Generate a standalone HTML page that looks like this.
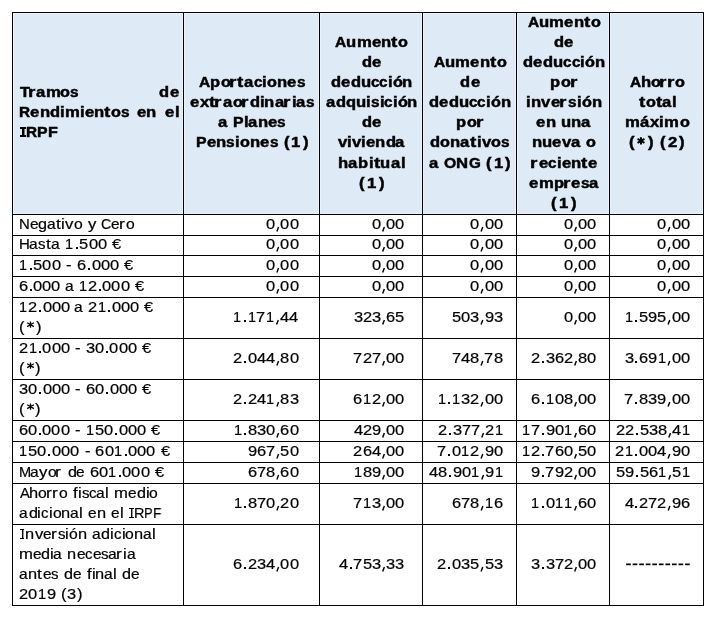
<!DOCTYPE html>
<html><head><meta charset="utf-8"><style>
html,body{margin:0;padding:0;background:#fff;width:715px;height:620px;overflow:hidden;position:relative}
.h{position:absolute;left:12px;width:692px;height:1px;background:#000}
.v{position:absolute;top:12px;height:594px;width:1px;background:#000}
.t,.b{position:absolute;white-space:nowrap;line-height:30px;will-change:transform;font-family:"Liberation Sans",sans-serif;font-size:14.5px;color:#000;transform-origin:0 0}
.t{-webkit-text-stroke:0.2px #000}
.b{font-weight:bold;-webkit-text-stroke:0.45px #000}
</style></head><body>
<div style="position:absolute;left:12px;top:12px;width:691px;height:202px;background:#DEEAF6"></div>
<div style="position:absolute;left:13px;top:13px;width:1px;height:201px;background:#EAF3FB"></div>
<div style="position:absolute;left:182px;top:13px;width:1px;height:201px;background:#EAF3FB"></div>
<div style="position:absolute;left:184px;top:13px;width:1px;height:201px;background:#EAF3FB"></div>
<div style="position:absolute;left:318px;top:13px;width:1px;height:201px;background:#EAF3FB"></div>
<div style="position:absolute;left:320px;top:13px;width:1px;height:201px;background:#EAF3FB"></div>
<div style="position:absolute;left:421px;top:13px;width:1px;height:201px;background:#EAF3FB"></div>
<div style="position:absolute;left:423px;top:13px;width:1px;height:201px;background:#EAF3FB"></div>
<div style="position:absolute;left:515px;top:13px;width:1px;height:201px;background:#EAF3FB"></div>
<div style="position:absolute;left:517px;top:13px;width:1px;height:201px;background:#EAF3FB"></div>
<div style="position:absolute;left:608px;top:13px;width:1px;height:201px;background:#EAF3FB"></div>
<div style="position:absolute;left:610px;top:13px;width:1px;height:201px;background:#EAF3FB"></div>
<div style="position:absolute;left:702px;top:13px;width:1px;height:201px;background:#EAF3FB"></div>
<div style="position:absolute;left:13px;top:13px;width:690px;height:1px;background:#EAF3FB"></div>
<div style="position:absolute;left:13px;top:213px;width:690px;height:1px;background:#EAF3FB"></div>
<div class="h" style="top:12px"></div>
<div class="h" style="top:214px"></div>
<div class="h" style="top:235px"></div>
<div class="h" style="top:255px"></div>
<div class="h" style="top:276px"></div>
<div class="h" style="top:297px"></div>
<div class="h" style="top:338px"></div>
<div class="h" style="top:379px"></div>
<div class="h" style="top:420px"></div>
<div class="h" style="top:441px"></div>
<div class="h" style="top:462px"></div>
<div class="h" style="top:483px"></div>
<div class="h" style="top:524px"></div>
<div class="h" style="top:605px"></div>
<div class="v" style="left:12px"></div>
<div class="v" style="left:183px"></div>
<div class="v" style="left:319px"></div>
<div class="v" style="left:422px"></div>
<div class="v" style="left:516px"></div>
<div class="v" style="left:609px"></div>
<div class="v" style="left:703px"></div>
<div class="b" style="left:19.64px;top:77px;transform:scaleX(1.109)">T</div>
<div class="b" style="left:27.97px;top:77px;transform:scaleX(1.300)">r</div>
<div class="b" style="left:36.08px;top:77px;transform:scaleX(1.150)">a</div>
<div class="b" style="left:45.63px;top:77px;transform:scaleX(1.150)">m</div>
<div class="b" style="left:60.49px;top:77px;transform:scaleX(1.117)">o</div>
<div class="b" style="left:70.14px;top:77px;transform:scaleX(1.059)">s</div>
<div class="b" style="left:159.21px;top:77px;transform:scaleX(1.136)">d</div>
<div class="b" style="left:169.51px;top:77px;transform:scaleX(1.150)">e</div>
<div class="b" style="left:18.66px;top:97px;transform:scaleX(1.059)">R</div>
<div class="b" style="left:30.12px;top:97px;transform:scaleX(1.150)">e</div>
<div class="b" style="left:39.52px;top:97px;transform:scaleX(1.150)">n</div>
<div class="b" style="left:49.95px;top:97px;transform:scaleX(1.136)">d</div>
<div class="b" style="left:59.92px;top:97px;transform:scaleX(1.150)">i</div>
<div class="b" style="left:64.75px;top:97px;transform:scaleX(1.150)">m</div>
<div class="b" style="left:79.93px;top:97px;transform:scaleX(1.150)">i</div>
<div class="b" style="left:84.68px;top:97px;transform:scaleX(1.150)">e</div>
<div class="b" style="left:94.08px;top:97px;transform:scaleX(1.150)">n</div>
<div class="b" style="left:104.22px;top:97px;transform:scaleX(1.300)">t</div>
<div class="b" style="left:110.89px;top:97px;transform:scaleX(1.117)">o</div>
<div class="b" style="left:120.69px;top:97px;transform:scaleX(1.059)">s</div>
<div class="b" style="left:136.78px;top:97px;transform:scaleX(1.150)">e</div>
<div class="b" style="left:146.14px;top:97px;transform:scaleX(1.150)">n</div>
<div class="b" style="left:164.97px;top:97px;transform:scaleX(1.150)">e</div>
<div class="b" style="left:175.08px;top:97px;transform:scaleX(1.150)">l</div>
<div style="position:absolute;left:22px;top:127px;width:2px;height:10px;background:#000"></div>
<div style="position:absolute;left:24px;top:127px;width:1px;height:10px;background:#777"></div>
<div style="position:absolute;left:19.67px;top:127px;width:6.0px;height:2px;background:#000"></div>
<div style="position:absolute;left:19.67px;top:135px;width:6.0px;height:2px;background:#000"></div>
<div class="b" style="left:26.10px;top:117px;transform:scaleX(1.059)">R</div>
<div class="b" style="left:37.18px;top:117px;transform:scaleX(1.091)">P</div>
<div class="b" style="left:47.60px;top:117px;transform:scaleX(1.110)">F</div>
<div class="b" style="left:199.43px;top:67px;transform:scaleX(1.067)">A</div>
<div class="b" style="left:210.24px;top:67px;transform:scaleX(1.136)">p</div>
<div class="b" style="left:220.57px;top:67px;transform:scaleX(1.117)">o</div>
<div class="b" style="left:229.15px;top:67px;transform:scaleX(1.300)">r</div>
<div class="b" style="left:237.44px;top:67px;transform:scaleX(1.300)">t</div>
<div class="b" style="left:244.02px;top:67px;transform:scaleX(1.150)">a</div>
<div class="b" style="left:253.60px;top:67px;transform:scaleX(1.050)">c</div>
<div class="b" style="left:262.32px;top:67px;transform:scaleX(1.150)">i</div>
<div class="b" style="left:267.13px;top:67px;transform:scaleX(1.117)">o</div>
<div class="b" style="left:276.90px;top:67px;transform:scaleX(1.150)">n</div>
<div class="b" style="left:287.22px;top:67px;transform:scaleX(1.150)">e</div>
<div class="b" style="left:296.76px;top:67px;transform:scaleX(1.059)">s</div>
<div class="b" style="left:190.02px;top:87px;transform:scaleX(1.150)">e</div>
<div class="b" style="left:199.74px;top:87px;transform:scaleX(1.150)">x</div>
<div class="b" style="left:209.04px;top:87px;transform:scaleX(1.300)">t</div>
<div class="b" style="left:214.45px;top:87px;transform:scaleX(1.300)">r</div>
<div class="b" style="left:222.76px;top:87px;transform:scaleX(1.150)">a</div>
<div class="b" style="left:232.50px;top:87px;transform:scaleX(1.117)">o</div>
<div class="b" style="left:241.08px;top:87px;transform:scaleX(1.300)">r</div>
<div class="b" style="left:249.67px;top:87px;transform:scaleX(1.136)">d</div>
<div class="b" style="left:259.68px;top:87px;transform:scaleX(1.150)">i</div>
<div class="b" style="left:264.38px;top:87px;transform:scaleX(1.150)">n</div>
<div class="b" style="left:274.59px;top:87px;transform:scaleX(1.150)">a</div>
<div class="b" style="left:283.02px;top:87px;transform:scaleX(1.300)">r</div>
<div class="b" style="left:291.58px;top:87px;transform:scaleX(1.150)">i</div>
<div class="b" style="left:296.25px;top:87px;transform:scaleX(1.150)">a</div>
<div class="b" style="left:305.96px;top:87px;transform:scaleX(1.059)">s</div>
<div class="b" style="left:218.46px;top:107px;transform:scaleX(1.150)">a</div>
<div class="b" style="left:232.61px;top:107px;transform:scaleX(1.091)">P</div>
<div class="b" style="left:243.56px;top:107px;transform:scaleX(1.150)">l</div>
<div class="b" style="left:248.16px;top:107px;transform:scaleX(1.150)">a</div>
<div class="b" style="left:257.71px;top:107px;transform:scaleX(1.150)">n</div>
<div class="b" style="left:267.94px;top:107px;transform:scaleX(1.150)">e</div>
<div class="b" style="left:277.40px;top:107px;transform:scaleX(1.059)">s</div>
<div class="b" style="left:195.62px;top:127px;transform:scaleX(1.091)">P</div>
<div class="b" style="left:206.55px;top:127px;transform:scaleX(1.150)">e</div>
<div class="b" style="left:216.05px;top:127px;transform:scaleX(1.150)">n</div>
<div class="b" style="left:226.41px;top:127px;transform:scaleX(1.059)">s</div>
<div class="b" style="left:235.09px;top:127px;transform:scaleX(1.150)">i</div>
<div class="b" style="left:239.93px;top:127px;transform:scaleX(1.117)">o</div>
<div class="b" style="left:249.74px;top:127px;transform:scaleX(1.150)">n</div>
<div class="b" style="left:260.10px;top:127px;transform:scaleX(1.150)">e</div>
<div class="b" style="left:269.68px;top:127px;transform:scaleX(1.059)">s</div>
<div class="b" style="left:283.89px;top:127px;transform:scaleX(1.150)">(</div>
<div class="b" style="left:291.21px;top:127px;transform:scaleX(1.150)">1</div>
<div class="b" style="left:302.71px;top:127px;transform:scaleX(1.150)">)</div>
<div class="b" style="left:335.40px;top:27px;transform:scaleX(1.067)">A</div>
<div class="b" style="left:346.49px;top:27px;transform:scaleX(1.150)">u</div>
<div class="b" style="left:356.71px;top:27px;transform:scaleX(1.150)">m</div>
<div class="b" style="left:371.77px;top:27px;transform:scaleX(1.150)">e</div>
<div class="b" style="left:381.18px;top:27px;transform:scaleX(1.150)">n</div>
<div class="b" style="left:391.33px;top:27px;transform:scaleX(1.300)">t</div>
<div class="b" style="left:398.01px;top:27px;transform:scaleX(1.117)">o</div>
<div class="b" style="left:362.01px;top:47px;transform:scaleX(1.136)">d</div>
<div class="b" style="left:372.11px;top:47px;transform:scaleX(1.150)">e</div>
<div class="b" style="left:331.22px;top:67px;transform:scaleX(1.136)">d</div>
<div class="b" style="left:341.08px;top:67px;transform:scaleX(1.150)">e</div>
<div class="b" style="left:350.78px;top:67px;transform:scaleX(1.136)">d</div>
<div class="b" style="left:360.70px;top:67px;transform:scaleX(1.150)">u</div>
<div class="b" style="left:370.73px;top:67px;transform:scaleX(1.050)">c</div>
<div class="b" style="left:379.16px;top:67px;transform:scaleX(1.050)">c</div>
<div class="b" style="left:387.87px;top:67px;transform:scaleX(1.150)">i</div>
<div class="b" style="left:392.66px;top:67px;transform:scaleX(1.117)">ó</div>
<div class="b" style="left:402.41px;top:67px;transform:scaleX(1.150)">n</div>
<div class="b" style="left:326.18px;top:87px;transform:scaleX(1.150)">a</div>
<div class="b" style="left:336.01px;top:87px;transform:scaleX(1.136)">d</div>
<div class="b" style="left:346.01px;top:87px;transform:scaleX(1.136)">q</div>
<div class="b" style="left:355.90px;top:87px;transform:scaleX(1.150)">u</div>
<div class="b" style="left:366.17px;top:87px;transform:scaleX(1.150)">i</div>
<div class="b" style="left:370.92px;top:87px;transform:scaleX(1.059)">s</div>
<div class="b" style="left:379.54px;top:87px;transform:scaleX(1.150)">i</div>
<div class="b" style="left:384.16px;top:87px;transform:scaleX(1.050)">c</div>
<div class="b" style="left:392.84px;top:87px;transform:scaleX(1.150)">i</div>
<div class="b" style="left:397.61px;top:87px;transform:scaleX(1.117)">ó</div>
<div class="b" style="left:407.33px;top:87px;transform:scaleX(1.150)">n</div>
<div class="b" style="left:362.01px;top:107px;transform:scaleX(1.136)">d</div>
<div class="b" style="left:372.11px;top:107px;transform:scaleX(1.150)">e</div>
<div class="b" style="left:338.20px;top:127px;transform:scaleX(1.150)">v</div>
<div class="b" style="left:347.49px;top:127px;transform:scaleX(1.150)">i</div>
<div class="b" style="left:352.17px;top:127px;transform:scaleX(1.150)">v</div>
<div class="b" style="left:361.46px;top:127px;transform:scaleX(1.150)">i</div>
<div class="b" style="left:366.10px;top:127px;transform:scaleX(1.150)">e</div>
<div class="b" style="left:375.36px;top:127px;transform:scaleX(1.150)">n</div>
<div class="b" style="left:385.64px;top:127px;transform:scaleX(1.136)">d</div>
<div class="b" style="left:395.21px;top:127px;transform:scaleX(1.150)">a</div>
<div class="b" style="left:337.94px;top:148px;transform:scaleX(1.150)">h</div>
<div class="b" style="left:348.40px;top:148px;transform:scaleX(1.150)">a</div>
<div class="b" style="left:358.10px;top:148px;transform:scaleX(1.136)">b</div>
<div class="b" style="left:368.73px;top:148px;transform:scaleX(1.150)">i</div>
<div class="b" style="left:373.51px;top:148px;transform:scaleX(1.300)">t</div>
<div class="b" style="left:380.48px;top:148px;transform:scaleX(1.150)">u</div>
<div class="b" style="left:390.79px;top:148px;transform:scaleX(1.150)">a</div>
<div class="b" style="left:400.82px;top:148px;transform:scaleX(1.150)">l</div>
<div class="b" style="left:359.13px;top:168px;transform:scaleX(1.150)">(</div>
<div class="b" style="left:366.79px;top:168px;transform:scaleX(1.150)">1</div>
<div class="b" style="left:378.62px;top:168px;transform:scaleX(1.150)">)</div>
<div class="b" style="left:433.75px;top:47px;transform:scaleX(1.067)">A</div>
<div class="b" style="left:444.94px;top:47px;transform:scaleX(1.150)">u</div>
<div class="b" style="left:455.29px;top:47px;transform:scaleX(1.150)">m</div>
<div class="b" style="left:470.47px;top:47px;transform:scaleX(1.150)">e</div>
<div class="b" style="left:479.98px;top:47px;transform:scaleX(1.150)">n</div>
<div class="b" style="left:490.21px;top:47px;transform:scaleX(1.300)">t</div>
<div class="b" style="left:496.97px;top:47px;transform:scaleX(1.117)">o</div>
<div class="b" style="left:460.31px;top:67px;transform:scaleX(1.136)">d</div>
<div class="b" style="left:470.61px;top:67px;transform:scaleX(1.150)">e</div>
<div class="b" style="left:429.14px;top:87px;transform:scaleX(1.136)">d</div>
<div class="b" style="left:439.07px;top:87px;transform:scaleX(1.150)">e</div>
<div class="b" style="left:448.83px;top:87px;transform:scaleX(1.136)">d</div>
<div class="b" style="left:458.81px;top:87px;transform:scaleX(1.150)">u</div>
<div class="b" style="left:468.90px;top:87px;transform:scaleX(1.050)">c</div>
<div class="b" style="left:477.39px;top:87px;transform:scaleX(1.050)">c</div>
<div class="b" style="left:486.13px;top:87px;transform:scaleX(1.150)">i</div>
<div class="b" style="left:490.98px;top:87px;transform:scaleX(1.117)">ó</div>
<div class="b" style="left:500.79px;top:87px;transform:scaleX(1.150)">n</div>
<div class="b" style="left:456.40px;top:107px;transform:scaleX(1.136)">p</div>
<div class="b" style="left:467.09px;top:107px;transform:scaleX(1.117)">o</div>
<div class="b" style="left:475.95px;top:107px;transform:scaleX(1.300)">r</div>
<div class="b" style="left:430.17px;top:127px;transform:scaleX(1.136)">d</div>
<div class="b" style="left:440.17px;top:127px;transform:scaleX(1.117)">o</div>
<div class="b" style="left:450.03px;top:127px;transform:scaleX(1.150)">n</div>
<div class="b" style="left:460.34px;top:127px;transform:scaleX(1.150)">a</div>
<div class="b" style="left:469.99px;top:127px;transform:scaleX(1.300)">t</div>
<div class="b" style="left:476.87px;top:127px;transform:scaleX(1.150)">i</div>
<div class="b" style="left:481.77px;top:127px;transform:scaleX(1.150)">v</div>
<div class="b" style="left:491.19px;top:127px;transform:scaleX(1.117)">o</div>
<div class="b" style="left:501.13px;top:127px;transform:scaleX(1.059)">s</div>
<div class="b" style="left:429.44px;top:148px;transform:scaleX(1.150)">a</div>
<div class="b" style="left:444.18px;top:148px;transform:scaleX(1.085)">O</div>
<div class="b" style="left:456.47px;top:148px;transform:scaleX(1.150)">N</div>
<div class="b" style="left:468.75px;top:148px;transform:scaleX(1.049)">G</div>
<div class="b" style="left:486.21px;top:148px;transform:scaleX(1.150)">(</div>
<div class="b" style="left:493.57px;top:148px;transform:scaleX(1.150)">1</div>
<div class="b" style="left:505.10px;top:148px;transform:scaleX(1.150)">)</div>
<div class="b" style="left:527.73px;top:7px;transform:scaleX(1.067)">A</div>
<div class="b" style="left:538.88px;top:7px;transform:scaleX(1.150)">u</div>
<div class="b" style="left:549.17px;top:7px;transform:scaleX(1.150)">m</div>
<div class="b" style="left:564.30px;top:7px;transform:scaleX(1.150)">e</div>
<div class="b" style="left:573.77px;top:7px;transform:scaleX(1.150)">n</div>
<div class="b" style="left:583.96px;top:7px;transform:scaleX(1.300)">t</div>
<div class="b" style="left:590.69px;top:7px;transform:scaleX(1.117)">o</div>
<div class="b" style="left:554.27px;top:27px;transform:scaleX(1.136)">d</div>
<div class="b" style="left:564.25px;top:27px;transform:scaleX(1.150)">e</div>
<div class="b" style="left:523.25px;top:47px;transform:scaleX(1.136)">d</div>
<div class="b" style="left:533.19px;top:47px;transform:scaleX(1.150)">e</div>
<div class="b" style="left:542.96px;top:47px;transform:scaleX(1.136)">d</div>
<div class="b" style="left:552.95px;top:47px;transform:scaleX(1.150)">u</div>
<div class="b" style="left:563.05px;top:47px;transform:scaleX(1.050)">c</div>
<div class="b" style="left:571.55px;top:47px;transform:scaleX(1.050)">c</div>
<div class="b" style="left:580.31px;top:47px;transform:scaleX(1.150)">i</div>
<div class="b" style="left:585.16px;top:47px;transform:scaleX(1.117)">ó</div>
<div class="b" style="left:594.98px;top:47px;transform:scaleX(1.150)">n</div>
<div class="b" style="left:549.85px;top:67px;transform:scaleX(1.136)">p</div>
<div class="b" style="left:560.66px;top:67px;transform:scaleX(1.117)">o</div>
<div class="b" style="left:569.62px;top:67px;transform:scaleX(1.300)">r</div>
<div class="b" style="left:525.97px;top:87px;transform:scaleX(1.150)">i</div>
<div class="b" style="left:530.81px;top:87px;transform:scaleX(1.150)">n</div>
<div class="b" style="left:541.36px;top:87px;transform:scaleX(1.150)">v</div>
<div class="b" style="left:550.84px;top:87px;transform:scaleX(1.150)">e</div>
<div class="b" style="left:559.26px;top:87px;transform:scaleX(1.300)">r</div>
<div class="b" style="left:567.84px;top:87px;transform:scaleX(1.059)">s</div>
<div class="b" style="left:576.62px;top:87px;transform:scaleX(1.150)">i</div>
<div class="b" style="left:581.57px;top:87px;transform:scaleX(1.117)">ó</div>
<div class="b" style="left:591.53px;top:87px;transform:scaleX(1.150)">n</div>
<div class="b" style="left:536.31px;top:107px;transform:scaleX(1.150)">e</div>
<div class="b" style="left:545.76px;top:107px;transform:scaleX(1.150)">n</div>
<div class="b" style="left:561.05px;top:107px;transform:scaleX(1.150)">u</div>
<div class="b" style="left:571.13px;top:107px;transform:scaleX(1.150)">n</div>
<div class="b" style="left:581.32px;top:107px;transform:scaleX(1.150)">a</div>
<div class="b" style="left:531.56px;top:127px;transform:scaleX(1.150)">n</div>
<div class="b" style="left:541.98px;top:127px;transform:scaleX(1.150)">u</div>
<div class="b" style="left:552.20px;top:127px;transform:scaleX(1.150)">e</div>
<div class="b" style="left:561.83px;top:127px;transform:scaleX(1.150)">v</div>
<div class="b" style="left:571.06px;top:127px;transform:scaleX(1.150)">a</div>
<div class="b" style="left:585.77px;top:127px;transform:scaleX(1.117)">o</div>
<div class="b" style="left:530.48px;top:148px;transform:scaleX(1.300)">r</div>
<div class="b" style="left:538.87px;top:148px;transform:scaleX(1.150)">e</div>
<div class="b" style="left:548.24px;top:148px;transform:scaleX(1.050)">c</div>
<div class="b" style="left:556.93px;top:148px;transform:scaleX(1.150)">i</div>
<div class="b" style="left:561.69px;top:148px;transform:scaleX(1.150)">e</div>
<div class="b" style="left:571.10px;top:148px;transform:scaleX(1.150)">n</div>
<div class="b" style="left:581.25px;top:148px;transform:scaleX(1.300)">t</div>
<div class="b" style="left:587.91px;top:148px;transform:scaleX(1.150)">e</div>
<div class="b" style="left:529.31px;top:168px;transform:scaleX(1.150)">e</div>
<div class="b" style="left:538.92px;top:168px;transform:scaleX(1.150)">m</div>
<div class="b" style="left:553.73px;top:168px;transform:scaleX(1.136)">p</div>
<div class="b" style="left:562.73px;top:168px;transform:scaleX(1.300)">r</div>
<div class="b" style="left:571.13px;top:168px;transform:scaleX(1.150)">e</div>
<div class="b" style="left:580.65px;top:168px;transform:scaleX(1.059)">s</div>
<div class="b" style="left:589.03px;top:168px;transform:scaleX(1.150)">a</div>
<div class="b" style="left:551.25px;top:188px;transform:scaleX(1.150)">(</div>
<div class="b" style="left:558.99px;top:188px;transform:scaleX(1.150)">1</div>
<div class="b" style="left:570.89px;top:188px;transform:scaleX(1.150)">)</div>
<div class="b" style="left:629.69px;top:67px;transform:scaleX(1.067)">A</div>
<div class="b" style="left:640.62px;top:67px;transform:scaleX(1.150)">h</div>
<div class="b" style="left:650.90px;top:67px;transform:scaleX(1.117)">o</div>
<div class="b" style="left:659.43px;top:67px;transform:scaleX(1.300)">r</div>
<div class="b" style="left:666.53px;top:67px;transform:scaleX(1.300)">r</div>
<div class="b" style="left:674.92px;top:67px;transform:scaleX(1.117)">o</div>
<div class="b" style="left:639.19px;top:87px;transform:scaleX(1.300)">t</div>
<div class="b" style="left:645.88px;top:87px;transform:scaleX(1.117)">o</div>
<div class="b" style="left:655.57px;top:87px;transform:scaleX(1.300)">t</div>
<div class="b" style="left:662.13px;top:87px;transform:scaleX(1.150)">a</div>
<div class="b" style="left:671.96px;top:87px;transform:scaleX(1.150)">l</div>
<div class="b" style="left:624.60px;top:107px;transform:scaleX(1.150)">m</div>
<div class="b" style="left:639.71px;top:107px;transform:scaleX(1.150)">á</div>
<div class="b" style="left:649.69px;top:107px;transform:scaleX(1.150)">x</div>
<div class="b" style="left:659.33px;top:107px;transform:scaleX(1.150)">i</div>
<div class="b" style="left:664.31px;top:107px;transform:scaleX(1.150)">m</div>
<div class="b" style="left:679.55px;top:107px;transform:scaleX(1.117)">o</div>
<div class="b" style="left:629.19px;top:127px;transform:scaleX(1.150)">(</div>
<svg style="position:absolute;left:636px;top:135px" width="11" height="11" viewBox="0 0 11 11"><path d="M5.0 2.30L5.0 9.50M1.54 3.90L8.46 7.90M8.46 3.90L1.54 7.90" stroke="#000" stroke-width="2.0" fill="none"/></svg>
<div class="b" style="left:647.95px;top:127px;transform:scaleX(1.150)">)</div>
<div class="b" style="left:660.27px;top:127px;transform:scaleX(1.150)">(</div>
<div class="b" style="left:668.07px;top:127px;transform:scaleX(1.150)">2</div>
<div class="b" style="left:679.46px;top:127px;transform:scaleX(1.150)">)</div>
<div class="t" style="left:18.87px;top:209px;transform:scaleX(1.029)">N</div>
<div class="t" style="left:29.55px;top:209px;transform:scaleX(1.064)">e</div>
<div class="t" style="left:38.26px;top:209px;transform:scaleX(1.112)">g</div>
<div class="t" style="left:46.68px;top:209px;transform:scaleX(1.073)">a</div>
<div class="t" style="left:55.68px;top:209px;transform:scaleX(1.200)">t</div>
<div class="t" style="left:61.46px;top:209px;transform:scaleX(1.150)">i</div>
<div class="t" style="left:65.39px;top:209px;transform:scaleX(1.150)">v</div>
<div class="t" style="left:73.85px;top:209px;transform:scaleX(1.084)">o</div>
<div class="t" style="left:87.70px;top:209px;transform:scaleX(1.150)">y</div>
<div class="t" style="left:101.05px;top:209px;transform:scaleX(0.960)">C</div>
<div class="t" style="left:111.26px;top:209px;transform:scaleX(1.064)">e</div>
<div class="t" style="left:118.83px;top:209px;transform:scaleX(1.200)">r</div>
<div class="t" style="left:125.98px;top:209px;transform:scaleX(1.084)">o</div>
<div class="t" style="left:266.02px;top:209px;transform:scaleX(1.136)">0</div>
<svg style="position:absolute;left:274px;top:225px" width="6" height="8" viewBox="0 0 6 8"><path d="M4.57 1.90L2.87 6.40" stroke="#000" stroke-width="1.45" fill="none"/></svg>
<div class="t" style="left:280.42px;top:209px;transform:scaleX(1.136)">0</div>
<div class="t" style="left:289.58px;top:209px;transform:scaleX(1.136)">0</div>
<div class="t" style="left:371.82px;top:209px;transform:scaleX(1.136)">0</div>
<svg style="position:absolute;left:380px;top:225px" width="6" height="8" viewBox="0 0 6 8"><path d="M4.37 1.90L2.67 6.40" stroke="#000" stroke-width="1.45" fill="none"/></svg>
<div class="t" style="left:386.22px;top:209px;transform:scaleX(1.136)">0</div>
<div class="t" style="left:395.38px;top:209px;transform:scaleX(1.136)">0</div>
<div class="t" style="left:470.22px;top:209px;transform:scaleX(1.136)">0</div>
<svg style="position:absolute;left:478px;top:225px" width="6" height="8" viewBox="0 0 6 8"><path d="M4.77 1.90L3.07 6.40" stroke="#000" stroke-width="1.45" fill="none"/></svg>
<div class="t" style="left:484.62px;top:209px;transform:scaleX(1.136)">0</div>
<div class="t" style="left:493.78px;top:209px;transform:scaleX(1.136)">0</div>
<div class="t" style="left:563.82px;top:209px;transform:scaleX(1.136)">0</div>
<svg style="position:absolute;left:572px;top:225px" width="6" height="8" viewBox="0 0 6 8"><path d="M4.37 1.90L2.67 6.40" stroke="#000" stroke-width="1.45" fill="none"/></svg>
<div class="t" style="left:578.22px;top:209px;transform:scaleX(1.136)">0</div>
<div class="t" style="left:587.38px;top:209px;transform:scaleX(1.136)">0</div>
<div class="t" style="left:657.22px;top:209px;transform:scaleX(1.136)">0</div>
<svg style="position:absolute;left:665px;top:225px" width="6" height="8" viewBox="0 0 6 8"><path d="M4.77 1.90L3.07 6.40" stroke="#000" stroke-width="1.45" fill="none"/></svg>
<div class="t" style="left:671.62px;top:209px;transform:scaleX(1.136)">0</div>
<div class="t" style="left:680.78px;top:209px;transform:scaleX(1.136)">0</div>
<div class="t" style="left:18.67px;top:229px;transform:scaleX(1.033)">H</div>
<div class="t" style="left:29.02px;top:229px;transform:scaleX(1.073)">a</div>
<div class="t" style="left:38.06px;top:229px;transform:scaleX(1.035)">s</div>
<div class="t" style="left:45.55px;top:229px;transform:scaleX(1.200)">t</div>
<div class="t" style="left:50.88px;top:229px;transform:scaleX(1.073)">a</div>
<div class="t" style="left:65.33px;top:229px;transform:scaleX(1.000)">1</div>
<div style="position:absolute;left:76px;top:247px;width:2px;height:2px;background:#000"></div>
<div class="t" style="left:79.46px;top:229px;transform:scaleX(1.136)">5</div>
<div class="t" style="left:88.63px;top:229px;transform:scaleX(1.136)">0</div>
<div class="t" style="left:97.80px;top:229px;transform:scaleX(1.136)">0</div>
<div class="t" style="left:112.19px;top:229px;transform:scaleX(1.136)">€</div>
<div class="t" style="left:266.02px;top:229px;transform:scaleX(1.136)">0</div>
<svg style="position:absolute;left:274px;top:245px" width="6" height="8" viewBox="0 0 6 8"><path d="M4.57 1.90L2.87 6.40" stroke="#000" stroke-width="1.45" fill="none"/></svg>
<div class="t" style="left:280.42px;top:229px;transform:scaleX(1.136)">0</div>
<div class="t" style="left:289.58px;top:229px;transform:scaleX(1.136)">0</div>
<div class="t" style="left:371.82px;top:229px;transform:scaleX(1.136)">0</div>
<svg style="position:absolute;left:380px;top:245px" width="6" height="8" viewBox="0 0 6 8"><path d="M4.37 1.90L2.67 6.40" stroke="#000" stroke-width="1.45" fill="none"/></svg>
<div class="t" style="left:386.22px;top:229px;transform:scaleX(1.136)">0</div>
<div class="t" style="left:395.38px;top:229px;transform:scaleX(1.136)">0</div>
<div class="t" style="left:470.22px;top:229px;transform:scaleX(1.136)">0</div>
<svg style="position:absolute;left:478px;top:245px" width="6" height="8" viewBox="0 0 6 8"><path d="M4.77 1.90L3.07 6.40" stroke="#000" stroke-width="1.45" fill="none"/></svg>
<div class="t" style="left:484.62px;top:229px;transform:scaleX(1.136)">0</div>
<div class="t" style="left:493.78px;top:229px;transform:scaleX(1.136)">0</div>
<div class="t" style="left:563.82px;top:229px;transform:scaleX(1.136)">0</div>
<svg style="position:absolute;left:572px;top:245px" width="6" height="8" viewBox="0 0 6 8"><path d="M4.37 1.90L2.67 6.40" stroke="#000" stroke-width="1.45" fill="none"/></svg>
<div class="t" style="left:578.22px;top:229px;transform:scaleX(1.136)">0</div>
<div class="t" style="left:587.38px;top:229px;transform:scaleX(1.136)">0</div>
<div class="t" style="left:657.22px;top:229px;transform:scaleX(1.136)">0</div>
<svg style="position:absolute;left:665px;top:245px" width="6" height="8" viewBox="0 0 6 8"><path d="M4.77 1.90L3.07 6.40" stroke="#000" stroke-width="1.45" fill="none"/></svg>
<div class="t" style="left:671.62px;top:229px;transform:scaleX(1.136)">0</div>
<div class="t" style="left:680.78px;top:229px;transform:scaleX(1.136)">0</div>
<div class="t" style="left:19.28px;top:250px;transform:scaleX(1.000)">1</div>
<div style="position:absolute;left:30px;top:268px;width:2px;height:2px;background:#000"></div>
<div class="t" style="left:33.31px;top:250px;transform:scaleX(1.136)">5</div>
<div class="t" style="left:42.41px;top:250px;transform:scaleX(1.136)">0</div>
<div class="t" style="left:51.52px;top:250px;transform:scaleX(1.136)">0</div>
<div class="t" style="left:66.17px;top:250px;transform:scaleX(1.150)">-</div>
<div class="t" style="left:77.06px;top:250px;transform:scaleX(1.136)">6</div>
<div style="position:absolute;left:88px;top:268px;width:2px;height:2px;background:#000"></div>
<div class="t" style="left:91.52px;top:250px;transform:scaleX(1.136)">0</div>
<div class="t" style="left:100.63px;top:250px;transform:scaleX(1.136)">0</div>
<div class="t" style="left:109.74px;top:250px;transform:scaleX(1.136)">0</div>
<div class="t" style="left:124.02px;top:250px;transform:scaleX(1.136)">€</div>
<div class="t" style="left:266.02px;top:250px;transform:scaleX(1.136)">0</div>
<svg style="position:absolute;left:274px;top:266px" width="6" height="8" viewBox="0 0 6 8"><path d="M4.57 1.90L2.87 6.40" stroke="#000" stroke-width="1.45" fill="none"/></svg>
<div class="t" style="left:280.42px;top:250px;transform:scaleX(1.136)">0</div>
<div class="t" style="left:289.58px;top:250px;transform:scaleX(1.136)">0</div>
<div class="t" style="left:371.82px;top:250px;transform:scaleX(1.136)">0</div>
<svg style="position:absolute;left:380px;top:266px" width="6" height="8" viewBox="0 0 6 8"><path d="M4.37 1.90L2.67 6.40" stroke="#000" stroke-width="1.45" fill="none"/></svg>
<div class="t" style="left:386.22px;top:250px;transform:scaleX(1.136)">0</div>
<div class="t" style="left:395.38px;top:250px;transform:scaleX(1.136)">0</div>
<div class="t" style="left:470.22px;top:250px;transform:scaleX(1.136)">0</div>
<svg style="position:absolute;left:478px;top:266px" width="6" height="8" viewBox="0 0 6 8"><path d="M4.77 1.90L3.07 6.40" stroke="#000" stroke-width="1.45" fill="none"/></svg>
<div class="t" style="left:484.62px;top:250px;transform:scaleX(1.136)">0</div>
<div class="t" style="left:493.78px;top:250px;transform:scaleX(1.136)">0</div>
<div class="t" style="left:563.82px;top:250px;transform:scaleX(1.136)">0</div>
<svg style="position:absolute;left:572px;top:266px" width="6" height="8" viewBox="0 0 6 8"><path d="M4.37 1.90L2.67 6.40" stroke="#000" stroke-width="1.45" fill="none"/></svg>
<div class="t" style="left:578.22px;top:250px;transform:scaleX(1.136)">0</div>
<div class="t" style="left:587.38px;top:250px;transform:scaleX(1.136)">0</div>
<div class="t" style="left:657.22px;top:250px;transform:scaleX(1.136)">0</div>
<svg style="position:absolute;left:665px;top:266px" width="6" height="8" viewBox="0 0 6 8"><path d="M4.77 1.90L3.07 6.40" stroke="#000" stroke-width="1.45" fill="none"/></svg>
<div class="t" style="left:671.62px;top:250px;transform:scaleX(1.136)">0</div>
<div class="t" style="left:680.78px;top:250px;transform:scaleX(1.136)">0</div>
<div class="t" style="left:18.81px;top:271px;transform:scaleX(1.136)">6</div>
<div style="position:absolute;left:30px;top:289px;width:2px;height:2px;background:#000"></div>
<div class="t" style="left:33.21px;top:271px;transform:scaleX(1.136)">0</div>
<div class="t" style="left:42.28px;top:271px;transform:scaleX(1.136)">0</div>
<div class="t" style="left:51.36px;top:271px;transform:scaleX(1.136)">0</div>
<div class="t" style="left:65.04px;top:271px;transform:scaleX(1.073)">a</div>
<div class="t" style="left:79.33px;top:271px;transform:scaleX(1.000)">1</div>
<div class="t" style="left:87.96px;top:271px;transform:scaleX(1.136)">2</div>
<div style="position:absolute;left:99px;top:289px;width:2px;height:2px;background:#000"></div>
<div class="t" style="left:102.37px;top:271px;transform:scaleX(1.136)">0</div>
<div class="t" style="left:111.44px;top:271px;transform:scaleX(1.136)">0</div>
<div class="t" style="left:120.51px;top:271px;transform:scaleX(1.136)">0</div>
<div class="t" style="left:134.74px;top:271px;transform:scaleX(1.136)">€</div>
<div class="t" style="left:266.02px;top:271px;transform:scaleX(1.136)">0</div>
<svg style="position:absolute;left:274px;top:287px" width="6" height="8" viewBox="0 0 6 8"><path d="M4.57 1.90L2.87 6.40" stroke="#000" stroke-width="1.45" fill="none"/></svg>
<div class="t" style="left:280.42px;top:271px;transform:scaleX(1.136)">0</div>
<div class="t" style="left:289.58px;top:271px;transform:scaleX(1.136)">0</div>
<div class="t" style="left:371.82px;top:271px;transform:scaleX(1.136)">0</div>
<svg style="position:absolute;left:380px;top:287px" width="6" height="8" viewBox="0 0 6 8"><path d="M4.37 1.90L2.67 6.40" stroke="#000" stroke-width="1.45" fill="none"/></svg>
<div class="t" style="left:386.22px;top:271px;transform:scaleX(1.136)">0</div>
<div class="t" style="left:395.38px;top:271px;transform:scaleX(1.136)">0</div>
<div class="t" style="left:470.22px;top:271px;transform:scaleX(1.136)">0</div>
<svg style="position:absolute;left:478px;top:287px" width="6" height="8" viewBox="0 0 6 8"><path d="M4.77 1.90L3.07 6.40" stroke="#000" stroke-width="1.45" fill="none"/></svg>
<div class="t" style="left:484.62px;top:271px;transform:scaleX(1.136)">0</div>
<div class="t" style="left:493.78px;top:271px;transform:scaleX(1.136)">0</div>
<div class="t" style="left:563.82px;top:271px;transform:scaleX(1.136)">0</div>
<svg style="position:absolute;left:572px;top:287px" width="6" height="8" viewBox="0 0 6 8"><path d="M4.37 1.90L2.67 6.40" stroke="#000" stroke-width="1.45" fill="none"/></svg>
<div class="t" style="left:578.22px;top:271px;transform:scaleX(1.136)">0</div>
<div class="t" style="left:587.38px;top:271px;transform:scaleX(1.136)">0</div>
<div class="t" style="left:657.22px;top:271px;transform:scaleX(1.136)">0</div>
<svg style="position:absolute;left:665px;top:287px" width="6" height="8" viewBox="0 0 6 8"><path d="M4.77 1.90L3.07 6.40" stroke="#000" stroke-width="1.45" fill="none"/></svg>
<div class="t" style="left:671.62px;top:271px;transform:scaleX(1.136)">0</div>
<div class="t" style="left:680.78px;top:271px;transform:scaleX(1.136)">0</div>
<div class="t" style="left:19.47px;top:292px;transform:scaleX(1.000)">1</div>
<div class="t" style="left:28.12px;top:292px;transform:scaleX(1.136)">2</div>
<div style="position:absolute;left:39px;top:310px;width:2px;height:2px;background:#000"></div>
<div class="t" style="left:42.55px;top:292px;transform:scaleX(1.136)">0</div>
<div class="t" style="left:51.63px;top:292px;transform:scaleX(1.136)">0</div>
<div class="t" style="left:60.72px;top:292px;transform:scaleX(1.136)">0</div>
<div class="t" style="left:74.43px;top:292px;transform:scaleX(1.073)">a</div>
<div class="t" style="left:88.30px;top:292px;transform:scaleX(1.136)">2</div>
<div class="t" style="left:97.82px;top:292px;transform:scaleX(1.000)">1</div>
<div style="position:absolute;left:108px;top:310px;width:2px;height:2px;background:#000"></div>
<div class="t" style="left:111.81px;top:292px;transform:scaleX(1.136)">0</div>
<div class="t" style="left:120.90px;top:292px;transform:scaleX(1.136)">0</div>
<div class="t" style="left:129.98px;top:292px;transform:scaleX(1.136)">0</div>
<div class="t" style="left:144.23px;top:292px;transform:scaleX(1.136)">€</div>
<div class="t" style="left:19.16px;top:312px;transform:scaleX(1.150)">(</div>
<svg style="position:absolute;left:25px;top:319px" width="11" height="11" viewBox="0 0 11 11"><path d="M5.5 2.47L5.5 8.87M2.12 3.72L8.88 7.62M8.88 3.72L2.12 7.62" stroke="#000" stroke-width="1.3" fill="none"/></svg>
<div class="t" style="left:35.88px;top:312px;transform:scaleX(1.150)">)</div>
<div class="t" style="left:233.32px;top:302px;transform:scaleX(1.000)">1</div>
<div style="position:absolute;left:244px;top:320px;width:2px;height:2px;background:#000"></div>
<div class="t" style="left:247.72px;top:302px;transform:scaleX(1.000)">1</div>
<div class="t" style="left:256.44px;top:302px;transform:scaleX(1.136)">7</div>
<div class="t" style="left:266.03px;top:302px;transform:scaleX(1.000)">1</div>
<svg style="position:absolute;left:274px;top:318px" width="6" height="8" viewBox="0 0 6 8"><path d="M4.28 1.90L2.58 6.40" stroke="#000" stroke-width="1.45" fill="none"/></svg>
<div class="t" style="left:280.14px;top:302px;transform:scaleX(1.136)">4</div>
<div class="t" style="left:289.30px;top:302px;transform:scaleX(1.136)">4</div>
<div class="t" style="left:353.51px;top:302px;transform:scaleX(1.136)">3</div>
<div class="t" style="left:362.52px;top:302px;transform:scaleX(1.136)">2</div>
<div class="t" style="left:371.82px;top:302px;transform:scaleX(1.136)">3</div>
<svg style="position:absolute;left:380px;top:318px" width="6" height="8" viewBox="0 0 6 8"><path d="M4.37 1.90L2.67 6.40" stroke="#000" stroke-width="1.45" fill="none"/></svg>
<div class="t" style="left:386.08px;top:302px;transform:scaleX(1.136)">6</div>
<div class="t" style="left:395.38px;top:302px;transform:scaleX(1.136)">5</div>
<div class="t" style="left:451.91px;top:302px;transform:scaleX(1.136)">5</div>
<div class="t" style="left:461.07px;top:302px;transform:scaleX(1.136)">0</div>
<div class="t" style="left:470.22px;top:302px;transform:scaleX(1.136)">3</div>
<svg style="position:absolute;left:478px;top:318px" width="6" height="8" viewBox="0 0 6 8"><path d="M4.77 1.90L3.07 6.40" stroke="#000" stroke-width="1.45" fill="none"/></svg>
<div class="t" style="left:484.62px;top:302px;transform:scaleX(1.136)">9</div>
<div class="t" style="left:493.78px;top:302px;transform:scaleX(1.136)">3</div>
<div class="t" style="left:563.82px;top:302px;transform:scaleX(1.136)">0</div>
<svg style="position:absolute;left:572px;top:318px" width="6" height="8" viewBox="0 0 6 8"><path d="M4.37 1.90L2.67 6.40" stroke="#000" stroke-width="1.45" fill="none"/></svg>
<div class="t" style="left:578.22px;top:302px;transform:scaleX(1.136)">0</div>
<div class="t" style="left:587.38px;top:302px;transform:scaleX(1.136)">0</div>
<div class="t" style="left:624.80px;top:302px;transform:scaleX(1.000)">1</div>
<div style="position:absolute;left:635px;top:320px;width:2px;height:2px;background:#000"></div>
<div class="t" style="left:638.91px;top:302px;transform:scaleX(1.136)">5</div>
<div class="t" style="left:648.07px;top:302px;transform:scaleX(1.136)">9</div>
<div class="t" style="left:657.22px;top:302px;transform:scaleX(1.136)">5</div>
<svg style="position:absolute;left:665px;top:318px" width="6" height="8" viewBox="0 0 6 8"><path d="M4.77 1.90L3.07 6.40" stroke="#000" stroke-width="1.45" fill="none"/></svg>
<div class="t" style="left:671.62px;top:302px;transform:scaleX(1.136)">0</div>
<div class="t" style="left:680.78px;top:302px;transform:scaleX(1.136)">0</div>
<div class="t" style="left:19.01px;top:333px;transform:scaleX(1.136)">2</div>
<div class="t" style="left:28.51px;top:333px;transform:scaleX(1.000)">1</div>
<div style="position:absolute;left:39px;top:351px;width:2px;height:2px;background:#000"></div>
<div class="t" style="left:42.47px;top:333px;transform:scaleX(1.136)">0</div>
<div class="t" style="left:51.53px;top:333px;transform:scaleX(1.136)">0</div>
<div class="t" style="left:60.60px;top:333px;transform:scaleX(1.136)">0</div>
<div class="t" style="left:75.20px;top:333px;transform:scaleX(1.150)">-</div>
<div class="t" style="left:86.17px;top:333px;transform:scaleX(1.136)">3</div>
<div class="t" style="left:95.24px;top:333px;transform:scaleX(1.136)">0</div>
<div style="position:absolute;left:106px;top:351px;width:2px;height:2px;background:#000"></div>
<div class="t" style="left:109.49px;top:333px;transform:scaleX(1.136)">0</div>
<div class="t" style="left:118.55px;top:333px;transform:scaleX(1.136)">0</div>
<div class="t" style="left:127.62px;top:333px;transform:scaleX(1.136)">0</div>
<div class="t" style="left:141.84px;top:333px;transform:scaleX(1.136)">€</div>
<div class="t" style="left:19.10px;top:353px;transform:scaleX(1.150)">(</div>
<svg style="position:absolute;left:25px;top:360px" width="11" height="11" viewBox="0 0 11 11"><path d="M5.5 2.47L5.5 8.87M2.12 3.72L8.88 7.62M8.88 3.72L2.12 7.62" stroke="#000" stroke-width="1.3" fill="none"/></svg>
<div class="t" style="left:35.43px;top:353px;transform:scaleX(1.150)">)</div>
<div class="t" style="left:233.17px;top:343px;transform:scaleX(1.136)">2</div>
<div style="position:absolute;left:244px;top:361px;width:2px;height:2px;background:#000"></div>
<div class="t" style="left:247.71px;top:343px;transform:scaleX(1.136)">0</div>
<div class="t" style="left:256.87px;top:343px;transform:scaleX(1.136)">4</div>
<div class="t" style="left:266.02px;top:343px;transform:scaleX(1.136)">4</div>
<svg style="position:absolute;left:274px;top:359px" width="6" height="8" viewBox="0 0 6 8"><path d="M4.57 1.90L2.87 6.40" stroke="#000" stroke-width="1.45" fill="none"/></svg>
<div class="t" style="left:280.42px;top:343px;transform:scaleX(1.136)">8</div>
<div class="t" style="left:289.58px;top:343px;transform:scaleX(1.136)">0</div>
<div class="t" style="left:353.37px;top:343px;transform:scaleX(1.136)">7</div>
<div class="t" style="left:362.52px;top:343px;transform:scaleX(1.136)">2</div>
<div class="t" style="left:371.68px;top:343px;transform:scaleX(1.136)">7</div>
<svg style="position:absolute;left:380px;top:359px" width="6" height="8" viewBox="0 0 6 8"><path d="M4.37 1.90L2.67 6.40" stroke="#000" stroke-width="1.45" fill="none"/></svg>
<div class="t" style="left:386.22px;top:343px;transform:scaleX(1.136)">0</div>
<div class="t" style="left:395.38px;top:343px;transform:scaleX(1.136)">0</div>
<div class="t" style="left:451.77px;top:343px;transform:scaleX(1.136)">7</div>
<div class="t" style="left:461.07px;top:343px;transform:scaleX(1.136)">4</div>
<div class="t" style="left:470.22px;top:343px;transform:scaleX(1.136)">8</div>
<svg style="position:absolute;left:478px;top:359px" width="6" height="8" viewBox="0 0 6 8"><path d="M4.77 1.90L3.07 6.40" stroke="#000" stroke-width="1.45" fill="none"/></svg>
<div class="t" style="left:484.48px;top:343px;transform:scaleX(1.136)">7</div>
<div class="t" style="left:493.78px;top:343px;transform:scaleX(1.136)">8</div>
<div class="t" style="left:530.97px;top:343px;transform:scaleX(1.136)">2</div>
<div style="position:absolute;left:542px;top:361px;width:2px;height:2px;background:#000"></div>
<div class="t" style="left:545.51px;top:343px;transform:scaleX(1.136)">3</div>
<div class="t" style="left:554.52px;top:343px;transform:scaleX(1.136)">6</div>
<div class="t" style="left:563.68px;top:343px;transform:scaleX(1.136)">2</div>
<svg style="position:absolute;left:572px;top:359px" width="6" height="8" viewBox="0 0 6 8"><path d="M4.37 1.90L2.67 6.40" stroke="#000" stroke-width="1.45" fill="none"/></svg>
<div class="t" style="left:578.22px;top:343px;transform:scaleX(1.136)">8</div>
<div class="t" style="left:587.38px;top:343px;transform:scaleX(1.136)">0</div>
<div class="t" style="left:624.51px;top:343px;transform:scaleX(1.136)">3</div>
<div style="position:absolute;left:635px;top:361px;width:2px;height:2px;background:#000"></div>
<div class="t" style="left:638.77px;top:343px;transform:scaleX(1.136)">6</div>
<div class="t" style="left:648.07px;top:343px;transform:scaleX(1.136)">9</div>
<div class="t" style="left:657.52px;top:343px;transform:scaleX(1.000)">1</div>
<svg style="position:absolute;left:665px;top:359px" width="6" height="8" viewBox="0 0 6 8"><path d="M4.77 1.90L3.07 6.40" stroke="#000" stroke-width="1.45" fill="none"/></svg>
<div class="t" style="left:671.62px;top:343px;transform:scaleX(1.136)">0</div>
<div class="t" style="left:680.78px;top:343px;transform:scaleX(1.136)">0</div>
<div class="t" style="left:19.29px;top:374px;transform:scaleX(1.136)">3</div>
<div class="t" style="left:28.34px;top:374px;transform:scaleX(1.136)">0</div>
<div style="position:absolute;left:39px;top:392px;width:2px;height:2px;background:#000"></div>
<div class="t" style="left:42.58px;top:374px;transform:scaleX(1.136)">0</div>
<div class="t" style="left:51.64px;top:374px;transform:scaleX(1.136)">0</div>
<div class="t" style="left:60.69px;top:374px;transform:scaleX(1.136)">0</div>
<div class="t" style="left:75.27px;top:374px;transform:scaleX(1.150)">-</div>
<div class="t" style="left:86.09px;top:374px;transform:scaleX(1.136)">6</div>
<div class="t" style="left:95.29px;top:374px;transform:scaleX(1.136)">0</div>
<div style="position:absolute;left:106px;top:392px;width:2px;height:2px;background:#000"></div>
<div class="t" style="left:109.53px;top:374px;transform:scaleX(1.136)">0</div>
<div class="t" style="left:118.58px;top:374px;transform:scaleX(1.136)">0</div>
<div class="t" style="left:127.64px;top:374px;transform:scaleX(1.136)">0</div>
<div class="t" style="left:141.85px;top:374px;transform:scaleX(1.136)">€</div>
<div class="t" style="left:19.10px;top:394px;transform:scaleX(1.150)">(</div>
<svg style="position:absolute;left:25px;top:401px" width="11" height="11" viewBox="0 0 11 11"><path d="M5.5 2.47L5.5 8.87M2.12 3.72L8.88 7.62M8.88 3.72L2.12 7.62" stroke="#000" stroke-width="1.3" fill="none"/></svg>
<div class="t" style="left:35.43px;top:394px;transform:scaleX(1.150)">)</div>
<div class="t" style="left:233.17px;top:384px;transform:scaleX(1.136)">2</div>
<div style="position:absolute;left:244px;top:402px;width:2px;height:2px;background:#000"></div>
<div class="t" style="left:247.57px;top:384px;transform:scaleX(1.136)">2</div>
<div class="t" style="left:256.87px;top:384px;transform:scaleX(1.136)">4</div>
<div class="t" style="left:266.32px;top:384px;transform:scaleX(1.000)">1</div>
<svg style="position:absolute;left:274px;top:400px" width="6" height="8" viewBox="0 0 6 8"><path d="M4.57 1.90L2.87 6.40" stroke="#000" stroke-width="1.45" fill="none"/></svg>
<div class="t" style="left:280.42px;top:384px;transform:scaleX(1.136)">8</div>
<div class="t" style="left:289.58px;top:384px;transform:scaleX(1.136)">3</div>
<div class="t" style="left:353.37px;top:384px;transform:scaleX(1.136)">6</div>
<div class="t" style="left:362.96px;top:384px;transform:scaleX(1.000)">1</div>
<div class="t" style="left:371.68px;top:384px;transform:scaleX(1.136)">2</div>
<svg style="position:absolute;left:380px;top:400px" width="6" height="8" viewBox="0 0 6 8"><path d="M4.37 1.90L2.67 6.40" stroke="#000" stroke-width="1.45" fill="none"/></svg>
<div class="t" style="left:386.22px;top:384px;transform:scaleX(1.136)">0</div>
<div class="t" style="left:395.38px;top:384px;transform:scaleX(1.136)">0</div>
<div class="t" style="left:437.80px;top:384px;transform:scaleX(1.000)">1</div>
<div style="position:absolute;left:448px;top:402px;width:2px;height:2px;background:#000"></div>
<div class="t" style="left:452.20px;top:384px;transform:scaleX(1.000)">1</div>
<div class="t" style="left:461.07px;top:384px;transform:scaleX(1.136)">3</div>
<div class="t" style="left:470.08px;top:384px;transform:scaleX(1.136)">2</div>
<svg style="position:absolute;left:478px;top:400px" width="6" height="8" viewBox="0 0 6 8"><path d="M4.77 1.90L3.07 6.40" stroke="#000" stroke-width="1.45" fill="none"/></svg>
<div class="t" style="left:484.62px;top:384px;transform:scaleX(1.136)">0</div>
<div class="t" style="left:493.78px;top:384px;transform:scaleX(1.136)">0</div>
<div class="t" style="left:530.97px;top:384px;transform:scaleX(1.136)">6</div>
<div style="position:absolute;left:542px;top:402px;width:2px;height:2px;background:#000"></div>
<div class="t" style="left:545.80px;top:384px;transform:scaleX(1.000)">1</div>
<div class="t" style="left:554.67px;top:384px;transform:scaleX(1.136)">0</div>
<div class="t" style="left:563.82px;top:384px;transform:scaleX(1.136)">8</div>
<svg style="position:absolute;left:572px;top:400px" width="6" height="8" viewBox="0 0 6 8"><path d="M4.37 1.90L2.67 6.40" stroke="#000" stroke-width="1.45" fill="none"/></svg>
<div class="t" style="left:578.22px;top:384px;transform:scaleX(1.136)">0</div>
<div class="t" style="left:587.38px;top:384px;transform:scaleX(1.136)">0</div>
<div class="t" style="left:624.37px;top:384px;transform:scaleX(1.136)">7</div>
<div style="position:absolute;left:635px;top:402px;width:2px;height:2px;background:#000"></div>
<div class="t" style="left:638.91px;top:384px;transform:scaleX(1.136)">8</div>
<div class="t" style="left:648.07px;top:384px;transform:scaleX(1.136)">3</div>
<div class="t" style="left:657.22px;top:384px;transform:scaleX(1.136)">9</div>
<svg style="position:absolute;left:665px;top:400px" width="6" height="8" viewBox="0 0 6 8"><path d="M4.77 1.90L3.07 6.40" stroke="#000" stroke-width="1.45" fill="none"/></svg>
<div class="t" style="left:671.62px;top:384px;transform:scaleX(1.136)">0</div>
<div class="t" style="left:680.78px;top:384px;transform:scaleX(1.136)">0</div>
<div class="t" style="left:18.82px;top:415px;transform:scaleX(1.136)">6</div>
<div class="t" style="left:28.06px;top:415px;transform:scaleX(1.136)">0</div>
<div style="position:absolute;left:39px;top:433px;width:2px;height:2px;background:#000"></div>
<div class="t" style="left:42.35px;top:415px;transform:scaleX(1.136)">0</div>
<div class="t" style="left:51.45px;top:415px;transform:scaleX(1.136)">0</div>
<div class="t" style="left:60.54px;top:415px;transform:scaleX(1.136)">0</div>
<div class="t" style="left:75.18px;top:415px;transform:scaleX(1.150)">-</div>
<div class="t" style="left:86.48px;top:415px;transform:scaleX(1.000)">1</div>
<div class="t" style="left:95.28px;top:415px;transform:scaleX(1.136)">5</div>
<div class="t" style="left:104.38px;top:415px;transform:scaleX(1.136)">0</div>
<div style="position:absolute;left:115px;top:433px;width:2px;height:2px;background:#000"></div>
<div class="t" style="left:118.67px;top:415px;transform:scaleX(1.136)">0</div>
<div class="t" style="left:127.77px;top:415px;transform:scaleX(1.136)">0</div>
<div class="t" style="left:136.86px;top:415px;transform:scaleX(1.136)">0</div>
<div class="t" style="left:151.13px;top:415px;transform:scaleX(1.136)">€</div>
<div class="t" style="left:233.60px;top:415px;transform:scaleX(1.000)">1</div>
<div style="position:absolute;left:244px;top:433px;width:2px;height:2px;background:#000"></div>
<div class="t" style="left:247.71px;top:415px;transform:scaleX(1.136)">8</div>
<div class="t" style="left:256.87px;top:415px;transform:scaleX(1.136)">3</div>
<div class="t" style="left:266.02px;top:415px;transform:scaleX(1.136)">0</div>
<svg style="position:absolute;left:274px;top:431px" width="6" height="8" viewBox="0 0 6 8"><path d="M4.57 1.90L2.87 6.40" stroke="#000" stroke-width="1.45" fill="none"/></svg>
<div class="t" style="left:280.28px;top:415px;transform:scaleX(1.136)">6</div>
<div class="t" style="left:289.58px;top:415px;transform:scaleX(1.136)">0</div>
<div class="t" style="left:353.51px;top:415px;transform:scaleX(1.136)">4</div>
<div class="t" style="left:362.52px;top:415px;transform:scaleX(1.136)">2</div>
<div class="t" style="left:371.82px;top:415px;transform:scaleX(1.136)">9</div>
<svg style="position:absolute;left:380px;top:431px" width="6" height="8" viewBox="0 0 6 8"><path d="M4.37 1.90L2.67 6.40" stroke="#000" stroke-width="1.45" fill="none"/></svg>
<div class="t" style="left:386.22px;top:415px;transform:scaleX(1.136)">0</div>
<div class="t" style="left:395.38px;top:415px;transform:scaleX(1.136)">0</div>
<div class="t" style="left:438.09px;top:415px;transform:scaleX(1.136)">2</div>
<div style="position:absolute;left:449px;top:433px;width:2px;height:2px;background:#000"></div>
<div class="t" style="left:452.63px;top:415px;transform:scaleX(1.136)">3</div>
<div class="t" style="left:461.65px;top:415px;transform:scaleX(1.136)">7</div>
<div class="t" style="left:470.81px;top:415px;transform:scaleX(1.136)">7</div>
<svg style="position:absolute;left:479px;top:431px" width="6" height="8" viewBox="0 0 6 8"><path d="M4.49 1.90L2.79 6.40" stroke="#000" stroke-width="1.45" fill="none"/></svg>
<div class="t" style="left:485.21px;top:415px;transform:scaleX(1.136)">2</div>
<div class="t" style="left:494.80px;top:415px;transform:scaleX(1.000)">1</div>
<div class="t" style="left:522.24px;top:415px;transform:scaleX(1.000)">1</div>
<div class="t" style="left:530.97px;top:415px;transform:scaleX(1.136)">7</div>
<div style="position:absolute;left:542px;top:433px;width:2px;height:2px;background:#000"></div>
<div class="t" style="left:545.51px;top:415px;transform:scaleX(1.136)">9</div>
<div class="t" style="left:554.67px;top:415px;transform:scaleX(1.136)">0</div>
<div class="t" style="left:564.12px;top:415px;transform:scaleX(1.000)">1</div>
<svg style="position:absolute;left:572px;top:431px" width="6" height="8" viewBox="0 0 6 8"><path d="M4.37 1.90L2.67 6.40" stroke="#000" stroke-width="1.45" fill="none"/></svg>
<div class="t" style="left:578.08px;top:415px;transform:scaleX(1.136)">6</div>
<div class="t" style="left:587.38px;top:415px;transform:scaleX(1.136)">0</div>
<div class="t" style="left:615.93px;top:415px;transform:scaleX(1.136)">2</div>
<div class="t" style="left:625.09px;top:415px;transform:scaleX(1.136)">2</div>
<div style="position:absolute;left:636px;top:433px;width:2px;height:2px;background:#000"></div>
<div class="t" style="left:639.63px;top:415px;transform:scaleX(1.136)">5</div>
<div class="t" style="left:648.79px;top:415px;transform:scaleX(1.136)">3</div>
<div class="t" style="left:657.95px;top:415px;transform:scaleX(1.136)">8</div>
<svg style="position:absolute;left:666px;top:431px" width="6" height="8" viewBox="0 0 6 8"><path d="M4.49 1.90L2.79 6.40" stroke="#000" stroke-width="1.45" fill="none"/></svg>
<div class="t" style="left:672.35px;top:415px;transform:scaleX(1.136)">4</div>
<div class="t" style="left:681.80px;top:415px;transform:scaleX(1.000)">1</div>
<div class="t" style="left:19.48px;top:436px;transform:scaleX(1.000)">1</div>
<div class="t" style="left:28.29px;top:436px;transform:scaleX(1.136)">5</div>
<div class="t" style="left:37.40px;top:436px;transform:scaleX(1.136)">0</div>
<div style="position:absolute;left:48px;top:454px;width:2px;height:2px;background:#000"></div>
<div class="t" style="left:51.71px;top:436px;transform:scaleX(1.136)">0</div>
<div class="t" style="left:60.82px;top:436px;transform:scaleX(1.136)">0</div>
<div class="t" style="left:69.92px;top:436px;transform:scaleX(1.136)">0</div>
<div class="t" style="left:84.57px;top:436px;transform:scaleX(1.150)">-</div>
<div class="t" style="left:95.46px;top:436px;transform:scaleX(1.136)">6</div>
<div class="t" style="left:104.71px;top:436px;transform:scaleX(1.136)">0</div>
<div class="t" style="left:114.11px;top:436px;transform:scaleX(1.000)">1</div>
<div style="position:absolute;left:125px;top:454px;width:2px;height:2px;background:#000"></div>
<div class="t" style="left:128.13px;top:436px;transform:scaleX(1.136)">0</div>
<div class="t" style="left:137.23px;top:436px;transform:scaleX(1.136)">0</div>
<div class="t" style="left:146.34px;top:436px;transform:scaleX(1.136)">0</div>
<div class="t" style="left:160.62px;top:436px;transform:scaleX(1.136)">€</div>
<div class="t" style="left:247.71px;top:436px;transform:scaleX(1.136)">9</div>
<div class="t" style="left:256.72px;top:436px;transform:scaleX(1.136)">6</div>
<div class="t" style="left:265.88px;top:436px;transform:scaleX(1.136)">7</div>
<svg style="position:absolute;left:274px;top:452px" width="6" height="8" viewBox="0 0 6 8"><path d="M4.57 1.90L2.87 6.40" stroke="#000" stroke-width="1.45" fill="none"/></svg>
<div class="t" style="left:280.42px;top:436px;transform:scaleX(1.136)">5</div>
<div class="t" style="left:289.58px;top:436px;transform:scaleX(1.136)">0</div>
<div class="t" style="left:353.37px;top:436px;transform:scaleX(1.136)">2</div>
<div class="t" style="left:362.52px;top:436px;transform:scaleX(1.136)">6</div>
<div class="t" style="left:371.82px;top:436px;transform:scaleX(1.136)">4</div>
<svg style="position:absolute;left:380px;top:452px" width="6" height="8" viewBox="0 0 6 8"><path d="M4.37 1.90L2.67 6.40" stroke="#000" stroke-width="1.45" fill="none"/></svg>
<div class="t" style="left:386.22px;top:436px;transform:scaleX(1.136)">0</div>
<div class="t" style="left:395.38px;top:436px;transform:scaleX(1.136)">0</div>
<div class="t" style="left:437.37px;top:436px;transform:scaleX(1.136)">7</div>
<div style="position:absolute;left:448px;top:454px;width:2px;height:2px;background:#000"></div>
<div class="t" style="left:451.91px;top:436px;transform:scaleX(1.136)">0</div>
<div class="t" style="left:461.36px;top:436px;transform:scaleX(1.000)">1</div>
<div class="t" style="left:470.08px;top:436px;transform:scaleX(1.136)">2</div>
<svg style="position:absolute;left:478px;top:452px" width="6" height="8" viewBox="0 0 6 8"><path d="M4.77 1.90L3.07 6.40" stroke="#000" stroke-width="1.45" fill="none"/></svg>
<div class="t" style="left:484.62px;top:436px;transform:scaleX(1.136)">9</div>
<div class="t" style="left:493.78px;top:436px;transform:scaleX(1.136)">0</div>
<div class="t" style="left:522.24px;top:436px;transform:scaleX(1.000)">1</div>
<div class="t" style="left:530.97px;top:436px;transform:scaleX(1.136)">2</div>
<div style="position:absolute;left:542px;top:454px;width:2px;height:2px;background:#000"></div>
<div class="t" style="left:545.37px;top:436px;transform:scaleX(1.136)">7</div>
<div class="t" style="left:554.52px;top:436px;transform:scaleX(1.136)">6</div>
<div class="t" style="left:563.82px;top:436px;transform:scaleX(1.136)">0</div>
<svg style="position:absolute;left:572px;top:452px" width="6" height="8" viewBox="0 0 6 8"><path d="M4.37 1.90L2.67 6.40" stroke="#000" stroke-width="1.45" fill="none"/></svg>
<div class="t" style="left:578.22px;top:436px;transform:scaleX(1.136)">5</div>
<div class="t" style="left:587.38px;top:436px;transform:scaleX(1.136)">0</div>
<div class="t" style="left:615.21px;top:436px;transform:scaleX(1.136)">2</div>
<div class="t" style="left:624.80px;top:436px;transform:scaleX(1.000)">1</div>
<div style="position:absolute;left:635px;top:454px;width:2px;height:2px;background:#000"></div>
<div class="t" style="left:638.91px;top:436px;transform:scaleX(1.136)">0</div>
<div class="t" style="left:648.07px;top:436px;transform:scaleX(1.136)">0</div>
<div class="t" style="left:657.22px;top:436px;transform:scaleX(1.136)">4</div>
<svg style="position:absolute;left:665px;top:452px" width="6" height="8" viewBox="0 0 6 8"><path d="M4.77 1.90L3.07 6.40" stroke="#000" stroke-width="1.45" fill="none"/></svg>
<div class="t" style="left:671.62px;top:436px;transform:scaleX(1.136)">9</div>
<div class="t" style="left:680.78px;top:436px;transform:scaleX(1.136)">0</div>
<div class="t" style="left:18.65px;top:457px;transform:scaleX(1.005)">M</div>
<div class="t" style="left:30.29px;top:457px;transform:scaleX(1.073)">a</div>
<div class="t" style="left:39.33px;top:457px;transform:scaleX(1.150)">y</div>
<div class="t" style="left:47.72px;top:457px;transform:scaleX(1.084)">o</div>
<div class="t" style="left:55.39px;top:457px;transform:scaleX(1.200)">r</div>
<div class="t" style="left:67.64px;top:457px;transform:scaleX(1.112)">d</div>
<div class="t" style="left:76.39px;top:457px;transform:scaleX(1.064)">e</div>
<div class="t" style="left:89.78px;top:457px;transform:scaleX(1.136)">6</div>
<div class="t" style="left:98.99px;top:457px;transform:scaleX(1.136)">0</div>
<div class="t" style="left:108.36px;top:457px;transform:scaleX(1.000)">1</div>
<div style="position:absolute;left:119px;top:475px;width:2px;height:2px;background:#000"></div>
<div class="t" style="left:122.34px;top:457px;transform:scaleX(1.136)">0</div>
<div class="t" style="left:131.42px;top:457px;transform:scaleX(1.136)">0</div>
<div class="t" style="left:140.50px;top:457px;transform:scaleX(1.136)">0</div>
<div class="t" style="left:154.74px;top:457px;transform:scaleX(1.136)">€</div>
<div class="t" style="left:247.57px;top:457px;transform:scaleX(1.136)">6</div>
<div class="t" style="left:256.72px;top:457px;transform:scaleX(1.136)">7</div>
<div class="t" style="left:266.02px;top:457px;transform:scaleX(1.136)">8</div>
<svg style="position:absolute;left:274px;top:473px" width="6" height="8" viewBox="0 0 6 8"><path d="M4.57 1.90L2.87 6.40" stroke="#000" stroke-width="1.45" fill="none"/></svg>
<div class="t" style="left:280.28px;top:457px;transform:scaleX(1.136)">6</div>
<div class="t" style="left:289.58px;top:457px;transform:scaleX(1.136)">0</div>
<div class="t" style="left:353.80px;top:457px;transform:scaleX(1.000)">1</div>
<div class="t" style="left:362.67px;top:457px;transform:scaleX(1.136)">8</div>
<div class="t" style="left:371.82px;top:457px;transform:scaleX(1.136)">9</div>
<svg style="position:absolute;left:380px;top:473px" width="6" height="8" viewBox="0 0 6 8"><path d="M4.37 1.90L2.67 6.40" stroke="#000" stroke-width="1.45" fill="none"/></svg>
<div class="t" style="left:386.22px;top:457px;transform:scaleX(1.136)">0</div>
<div class="t" style="left:395.38px;top:457px;transform:scaleX(1.136)">0</div>
<div class="t" style="left:429.07px;top:457px;transform:scaleX(1.136)">4</div>
<div class="t" style="left:438.23px;top:457px;transform:scaleX(1.136)">8</div>
<div style="position:absolute;left:449px;top:475px;width:2px;height:2px;background:#000"></div>
<div class="t" style="left:452.63px;top:457px;transform:scaleX(1.136)">9</div>
<div class="t" style="left:461.79px;top:457px;transform:scaleX(1.136)">0</div>
<div class="t" style="left:471.24px;top:457px;transform:scaleX(1.000)">1</div>
<svg style="position:absolute;left:479px;top:473px" width="6" height="8" viewBox="0 0 6 8"><path d="M4.49 1.90L2.79 6.40" stroke="#000" stroke-width="1.45" fill="none"/></svg>
<div class="t" style="left:485.35px;top:457px;transform:scaleX(1.136)">9</div>
<div class="t" style="left:494.80px;top:457px;transform:scaleX(1.000)">1</div>
<div class="t" style="left:531.11px;top:457px;transform:scaleX(1.136)">9</div>
<div style="position:absolute;left:542px;top:475px;width:2px;height:2px;background:#000"></div>
<div class="t" style="left:545.37px;top:457px;transform:scaleX(1.136)">7</div>
<div class="t" style="left:554.67px;top:457px;transform:scaleX(1.136)">9</div>
<div class="t" style="left:563.68px;top:457px;transform:scaleX(1.136)">2</div>
<svg style="position:absolute;left:572px;top:473px" width="6" height="8" viewBox="0 0 6 8"><path d="M4.37 1.90L2.67 6.40" stroke="#000" stroke-width="1.45" fill="none"/></svg>
<div class="t" style="left:578.22px;top:457px;transform:scaleX(1.136)">0</div>
<div class="t" style="left:587.38px;top:457px;transform:scaleX(1.136)">0</div>
<div class="t" style="left:616.07px;top:457px;transform:scaleX(1.136)">5</div>
<div class="t" style="left:625.23px;top:457px;transform:scaleX(1.136)">9</div>
<div style="position:absolute;left:636px;top:475px;width:2px;height:2px;background:#000"></div>
<div class="t" style="left:639.63px;top:457px;transform:scaleX(1.136)">5</div>
<div class="t" style="left:648.65px;top:457px;transform:scaleX(1.136)">6</div>
<div class="t" style="left:658.24px;top:457px;transform:scaleX(1.000)">1</div>
<svg style="position:absolute;left:666px;top:473px" width="6" height="8" viewBox="0 0 6 8"><path d="M4.49 1.90L2.79 6.40" stroke="#000" stroke-width="1.45" fill="none"/></svg>
<div class="t" style="left:672.35px;top:457px;transform:scaleX(1.136)">5</div>
<div class="t" style="left:681.80px;top:457px;transform:scaleX(1.000)">1</div>
<div class="t" style="left:19.55px;top:478px;transform:scaleX(1.018)">A</div>
<div class="t" style="left:29.25px;top:478px;transform:scaleX(1.130)">h</div>
<div class="t" style="left:38.42px;top:478px;transform:scaleX(1.084)">o</div>
<div class="t" style="left:46.08px;top:478px;transform:scaleX(1.200)">r</div>
<div class="t" style="left:52.18px;top:478px;transform:scaleX(1.200)">r</div>
<div class="t" style="left:59.26px;top:478px;transform:scaleX(1.084)">o</div>
<div class="t" style="left:73.01px;top:478px;transform:scaleX(1.150)">f</div>
<div class="t" style="left:78.05px;top:478px;transform:scaleX(1.150)">i</div>
<div class="t" style="left:81.84px;top:478px;transform:scaleX(1.035)">s</div>
<div class="t" style="left:89.14px;top:478px;transform:scaleX(1.035)">c</div>
<div class="t" style="left:96.33px;top:478px;transform:scaleX(1.073)">a</div>
<div class="t" style="left:105.39px;top:478px;transform:scaleX(1.150)">l</div>
<div class="t" style="left:114.13px;top:478px;transform:scaleX(1.150)">m</div>
<div class="t" style="left:128.11px;top:478px;transform:scaleX(1.064)">e</div>
<div class="t" style="left:136.75px;top:478px;transform:scaleX(1.112)">d</div>
<div class="t" style="left:145.59px;top:478px;transform:scaleX(1.150)">i</div>
<div class="t" style="left:149.41px;top:478px;transform:scaleX(1.084)">o</div>
<div class="t" style="left:19.35px;top:498px;transform:scaleX(1.073)">a</div>
<div class="t" style="left:28.53px;top:498px;transform:scaleX(1.112)">d</div>
<div class="t" style="left:37.42px;top:498px;transform:scaleX(1.150)">i</div>
<div class="t" style="left:41.12px;top:498px;transform:scaleX(1.035)">c</div>
<div class="t" style="left:48.84px;top:498px;transform:scaleX(1.150)">i</div>
<div class="t" style="left:52.70px;top:498px;transform:scaleX(1.084)">o</div>
<div class="t" style="left:61.28px;top:498px;transform:scaleX(1.130)">n</div>
<div class="t" style="left:70.11px;top:498px;transform:scaleX(1.073)">a</div>
<div class="t" style="left:79.23px;top:498px;transform:scaleX(1.150)">l</div>
<div class="t" style="left:88.14px;top:498px;transform:scaleX(1.064)">e</div>
<div class="t" style="left:96.57px;top:498px;transform:scaleX(1.130)">n</div>
<div class="t" style="left:110.86px;top:498px;transform:scaleX(1.064)">e</div>
<div class="t" style="left:119.50px;top:498px;transform:scaleX(1.150)">l</div>
<div style="position:absolute;left:131px;top:508px;width:1px;height:10px;background:#000"></div>
<div style="position:absolute;left:132px;top:508px;width:1px;height:10px;background:#999"></div>
<div style="position:absolute;left:129.22px;top:508px;width:4.4px;height:1px;background:#000"></div>
<div style="position:absolute;left:129.22px;top:517px;width:4.4px;height:1px;background:#000"></div>
<div class="t" style="left:134.30px;top:498px;transform:scaleX(0.956)">R</div>
<div class="t" style="left:144.27px;top:498px;transform:scaleX(0.898)">P</div>
<div class="t" style="left:152.90px;top:498px;transform:scaleX(0.935)">F</div>
<div class="t" style="left:233.60px;top:488px;transform:scaleX(1.000)">1</div>
<div style="position:absolute;left:244px;top:506px;width:2px;height:2px;background:#000"></div>
<div class="t" style="left:247.71px;top:488px;transform:scaleX(1.136)">8</div>
<div class="t" style="left:256.72px;top:488px;transform:scaleX(1.136)">7</div>
<div class="t" style="left:266.02px;top:488px;transform:scaleX(1.136)">0</div>
<svg style="position:absolute;left:274px;top:504px" width="6" height="8" viewBox="0 0 6 8"><path d="M4.57 1.90L2.87 6.40" stroke="#000" stroke-width="1.45" fill="none"/></svg>
<div class="t" style="left:280.28px;top:488px;transform:scaleX(1.136)">2</div>
<div class="t" style="left:289.58px;top:488px;transform:scaleX(1.136)">0</div>
<div class="t" style="left:353.37px;top:488px;transform:scaleX(1.136)">7</div>
<div class="t" style="left:362.96px;top:488px;transform:scaleX(1.000)">1</div>
<div class="t" style="left:371.82px;top:488px;transform:scaleX(1.136)">3</div>
<svg style="position:absolute;left:380px;top:504px" width="6" height="8" viewBox="0 0 6 8"><path d="M4.37 1.90L2.67 6.40" stroke="#000" stroke-width="1.45" fill="none"/></svg>
<div class="t" style="left:386.22px;top:488px;transform:scaleX(1.136)">0</div>
<div class="t" style="left:395.38px;top:488px;transform:scaleX(1.136)">0</div>
<div class="t" style="left:451.91px;top:488px;transform:scaleX(1.136)">6</div>
<div class="t" style="left:461.07px;top:488px;transform:scaleX(1.136)">7</div>
<div class="t" style="left:470.37px;top:488px;transform:scaleX(1.136)">8</div>
<svg style="position:absolute;left:479px;top:504px" width="6" height="8" viewBox="0 0 6 8"><path d="M3.91 1.90L2.21 6.40" stroke="#000" stroke-width="1.45" fill="none"/></svg>
<div class="t" style="left:485.06px;top:488px;transform:scaleX(1.000)">1</div>
<div class="t" style="left:493.78px;top:488px;transform:scaleX(1.136)">6</div>
<div class="t" style="left:531.40px;top:488px;transform:scaleX(1.000)">1</div>
<div style="position:absolute;left:542px;top:506px;width:2px;height:2px;background:#000"></div>
<div class="t" style="left:545.51px;top:488px;transform:scaleX(1.136)">0</div>
<div class="t" style="left:554.96px;top:488px;transform:scaleX(1.000)">1</div>
<div class="t" style="left:564.12px;top:488px;transform:scaleX(1.000)">1</div>
<svg style="position:absolute;left:572px;top:504px" width="6" height="8" viewBox="0 0 6 8"><path d="M4.37 1.90L2.67 6.40" stroke="#000" stroke-width="1.45" fill="none"/></svg>
<div class="t" style="left:578.08px;top:488px;transform:scaleX(1.136)">6</div>
<div class="t" style="left:587.38px;top:488px;transform:scaleX(1.136)">0</div>
<div class="t" style="left:624.65px;top:488px;transform:scaleX(1.136)">4</div>
<div style="position:absolute;left:635px;top:506px;width:2px;height:2px;background:#000"></div>
<div class="t" style="left:638.91px;top:488px;transform:scaleX(1.136)">2</div>
<div class="t" style="left:648.07px;top:488px;transform:scaleX(1.136)">7</div>
<div class="t" style="left:657.22px;top:488px;transform:scaleX(1.136)">2</div>
<svg style="position:absolute;left:666px;top:504px" width="6" height="8" viewBox="0 0 6 8"><path d="M3.91 1.90L2.21 6.40" stroke="#000" stroke-width="1.45" fill="none"/></svg>
<div class="t" style="left:671.77px;top:488px;transform:scaleX(1.136)">9</div>
<div class="t" style="left:680.78px;top:488px;transform:scaleX(1.136)">6</div>
<div style="position:absolute;left:22px;top:529px;width:1px;height:10px;background:#000"></div>
<div style="position:absolute;left:23px;top:529px;width:1px;height:10px;background:#999"></div>
<div style="position:absolute;left:20.01px;top:529px;width:4.4px;height:1px;background:#000"></div>
<div style="position:absolute;left:20.01px;top:538px;width:4.4px;height:1px;background:#000"></div>
<div class="t" style="left:25.16px;top:519px;transform:scaleX(1.130)">n</div>
<div class="t" style="left:34.51px;top:519px;transform:scaleX(1.150)">v</div>
<div class="t" style="left:43.01px;top:519px;transform:scaleX(1.064)">e</div>
<div class="t" style="left:50.61px;top:519px;transform:scaleX(1.200)">r</div>
<div class="t" style="left:57.76px;top:519px;transform:scaleX(1.035)">s</div>
<div class="t" style="left:65.39px;top:519px;transform:scaleX(1.150)">i</div>
<div class="t" style="left:69.29px;top:519px;transform:scaleX(1.084)">ó</div>
<div class="t" style="left:77.92px;top:519px;transform:scaleX(1.130)">n</div>
<div class="t" style="left:91.89px;top:519px;transform:scaleX(1.073)">a</div>
<div class="t" style="left:101.12px;top:519px;transform:scaleX(1.112)">d</div>
<div class="t" style="left:110.05px;top:519px;transform:scaleX(1.150)">i</div>
<div class="t" style="left:113.78px;top:519px;transform:scaleX(1.035)">c</div>
<div class="t" style="left:121.54px;top:519px;transform:scaleX(1.150)">i</div>
<div class="t" style="left:125.44px;top:519px;transform:scaleX(1.084)">o</div>
<div class="t" style="left:134.07px;top:519px;transform:scaleX(1.130)">n</div>
<div class="t" style="left:142.96px;top:519px;transform:scaleX(1.073)">a</div>
<div class="t" style="left:152.11px;top:519px;transform:scaleX(1.150)">l</div>
<div class="t" style="left:18.51px;top:539px;transform:scaleX(1.150)">m</div>
<div class="t" style="left:32.52px;top:539px;transform:scaleX(1.064)">e</div>
<div class="t" style="left:41.19px;top:539px;transform:scaleX(1.112)">d</div>
<div class="t" style="left:50.05px;top:539px;transform:scaleX(1.150)">i</div>
<div class="t" style="left:53.48px;top:539px;transform:scaleX(1.073)">a</div>
<div class="t" style="left:67.38px;top:539px;transform:scaleX(1.130)">n</div>
<div class="t" style="left:76.58px;top:539px;transform:scaleX(1.064)">e</div>
<div class="t" style="left:84.95px;top:539px;transform:scaleX(1.035)">c</div>
<div class="t" style="left:92.56px;top:539px;transform:scaleX(1.064)">e</div>
<div class="t" style="left:101.06px;top:539px;transform:scaleX(1.035)">s</div>
<div class="t" style="left:108.14px;top:539px;transform:scaleX(1.073)">a</div>
<div class="t" style="left:116.15px;top:539px;transform:scaleX(1.200)">r</div>
<div class="t" style="left:123.34px;top:539px;transform:scaleX(1.150)">i</div>
<div class="t" style="left:126.77px;top:539px;transform:scaleX(1.073)">a</div>
<div class="t" style="left:19.15px;top:559px;transform:scaleX(1.073)">a</div>
<div class="t" style="left:28.04px;top:559px;transform:scaleX(1.130)">n</div>
<div class="t" style="left:37.23px;top:559px;transform:scaleX(1.200)">t</div>
<div class="t" style="left:42.93px;top:559px;transform:scaleX(1.064)">e</div>
<div class="t" style="left:51.46px;top:559px;transform:scaleX(1.035)">s</div>
<div class="t" style="left:64.17px;top:559px;transform:scaleX(1.112)">d</div>
<div class="t" style="left:72.97px;top:559px;transform:scaleX(1.064)">e</div>
<div class="t" style="left:86.65px;top:559px;transform:scaleX(1.150)">f</div>
<div class="t" style="left:91.72px;top:559px;transform:scaleX(1.150)">i</div>
<div class="t" style="left:95.43px;top:559px;transform:scaleX(1.130)">n</div>
<div class="t" style="left:104.26px;top:559px;transform:scaleX(1.073)">a</div>
<div class="t" style="left:113.37px;top:559px;transform:scaleX(1.150)">l</div>
<div class="t" style="left:122.42px;top:559px;transform:scaleX(1.112)">d</div>
<div class="t" style="left:131.23px;top:559px;transform:scaleX(1.064)">e</div>
<div class="t" style="left:18.86px;top:579px;transform:scaleX(1.136)">2</div>
<div class="t" style="left:28.19px;top:579px;transform:scaleX(1.136)">0</div>
<div class="t" style="left:37.66px;top:579px;transform:scaleX(1.000)">1</div>
<div class="t" style="left:46.56px;top:579px;transform:scaleX(1.136)">9</div>
<div class="t" style="left:60.89px;top:579px;transform:scaleX(1.150)">(</div>
<div class="t" style="left:67.38px;top:579px;transform:scaleX(1.136)">3</div>
<div class="t" style="left:77.49px;top:579px;transform:scaleX(1.150)">)</div>
<div class="t" style="left:233.17px;top:549px;transform:scaleX(1.136)">6</div>
<div style="position:absolute;left:244px;top:567px;width:2px;height:2px;background:#000"></div>
<div class="t" style="left:247.57px;top:549px;transform:scaleX(1.136)">2</div>
<div class="t" style="left:256.87px;top:549px;transform:scaleX(1.136)">3</div>
<div class="t" style="left:266.02px;top:549px;transform:scaleX(1.136)">4</div>
<svg style="position:absolute;left:274px;top:565px" width="6" height="8" viewBox="0 0 6 8"><path d="M4.57 1.90L2.87 6.40" stroke="#000" stroke-width="1.45" fill="none"/></svg>
<div class="t" style="left:280.42px;top:549px;transform:scaleX(1.136)">0</div>
<div class="t" style="left:289.58px;top:549px;transform:scaleX(1.136)">0</div>
<div class="t" style="left:339.11px;top:549px;transform:scaleX(1.136)">4</div>
<div style="position:absolute;left:350px;top:567px;width:2px;height:2px;background:#000"></div>
<div class="t" style="left:353.37px;top:549px;transform:scaleX(1.136)">7</div>
<div class="t" style="left:362.67px;top:549px;transform:scaleX(1.136)">5</div>
<div class="t" style="left:371.82px;top:549px;transform:scaleX(1.136)">3</div>
<svg style="position:absolute;left:380px;top:565px" width="6" height="8" viewBox="0 0 6 8"><path d="M4.37 1.90L2.67 6.40" stroke="#000" stroke-width="1.45" fill="none"/></svg>
<div class="t" style="left:386.22px;top:549px;transform:scaleX(1.136)">3</div>
<div class="t" style="left:395.38px;top:549px;transform:scaleX(1.136)">3</div>
<div class="t" style="left:437.37px;top:549px;transform:scaleX(1.136)">2</div>
<div style="position:absolute;left:448px;top:567px;width:2px;height:2px;background:#000"></div>
<div class="t" style="left:451.91px;top:549px;transform:scaleX(1.136)">0</div>
<div class="t" style="left:461.07px;top:549px;transform:scaleX(1.136)">3</div>
<div class="t" style="left:470.22px;top:549px;transform:scaleX(1.136)">5</div>
<svg style="position:absolute;left:478px;top:565px" width="6" height="8" viewBox="0 0 6 8"><path d="M4.77 1.90L3.07 6.40" stroke="#000" stroke-width="1.45" fill="none"/></svg>
<div class="t" style="left:484.62px;top:549px;transform:scaleX(1.136)">5</div>
<div class="t" style="left:493.78px;top:549px;transform:scaleX(1.136)">3</div>
<div class="t" style="left:531.11px;top:549px;transform:scaleX(1.136)">3</div>
<div style="position:absolute;left:542px;top:567px;width:2px;height:2px;background:#000"></div>
<div class="t" style="left:545.51px;top:549px;transform:scaleX(1.136)">3</div>
<div class="t" style="left:554.52px;top:549px;transform:scaleX(1.136)">7</div>
<div class="t" style="left:563.68px;top:549px;transform:scaleX(1.136)">2</div>
<svg style="position:absolute;left:572px;top:565px" width="6" height="8" viewBox="0 0 6 8"><path d="M4.37 1.90L2.67 6.40" stroke="#000" stroke-width="1.45" fill="none"/></svg>
<div class="t" style="left:578.22px;top:549px;transform:scaleX(1.136)">0</div>
<div class="t" style="left:587.38px;top:549px;transform:scaleX(1.136)">0</div>
<svg style="position:absolute;left:626px;top:563px" width="66" height="3" viewBox="0 0 66 3"><g fill="#000"><rect x="0.10" y="0.5" width="4.7" height="1.7"/><rect x="6.65" y="0.5" width="4.7" height="1.7"/><rect x="13.20" y="0.5" width="4.7" height="1.7"/><rect x="19.75" y="0.5" width="4.7" height="1.7"/><rect x="26.30" y="0.5" width="4.7" height="1.7"/><rect x="32.85" y="0.5" width="4.7" height="1.7"/><rect x="39.40" y="0.5" width="4.7" height="1.7"/><rect x="45.95" y="0.5" width="4.7" height="1.7"/><rect x="52.50" y="0.5" width="4.7" height="1.7"/><rect x="59.05" y="0.5" width="4.7" height="1.7"/></g></svg>
</body></html>
